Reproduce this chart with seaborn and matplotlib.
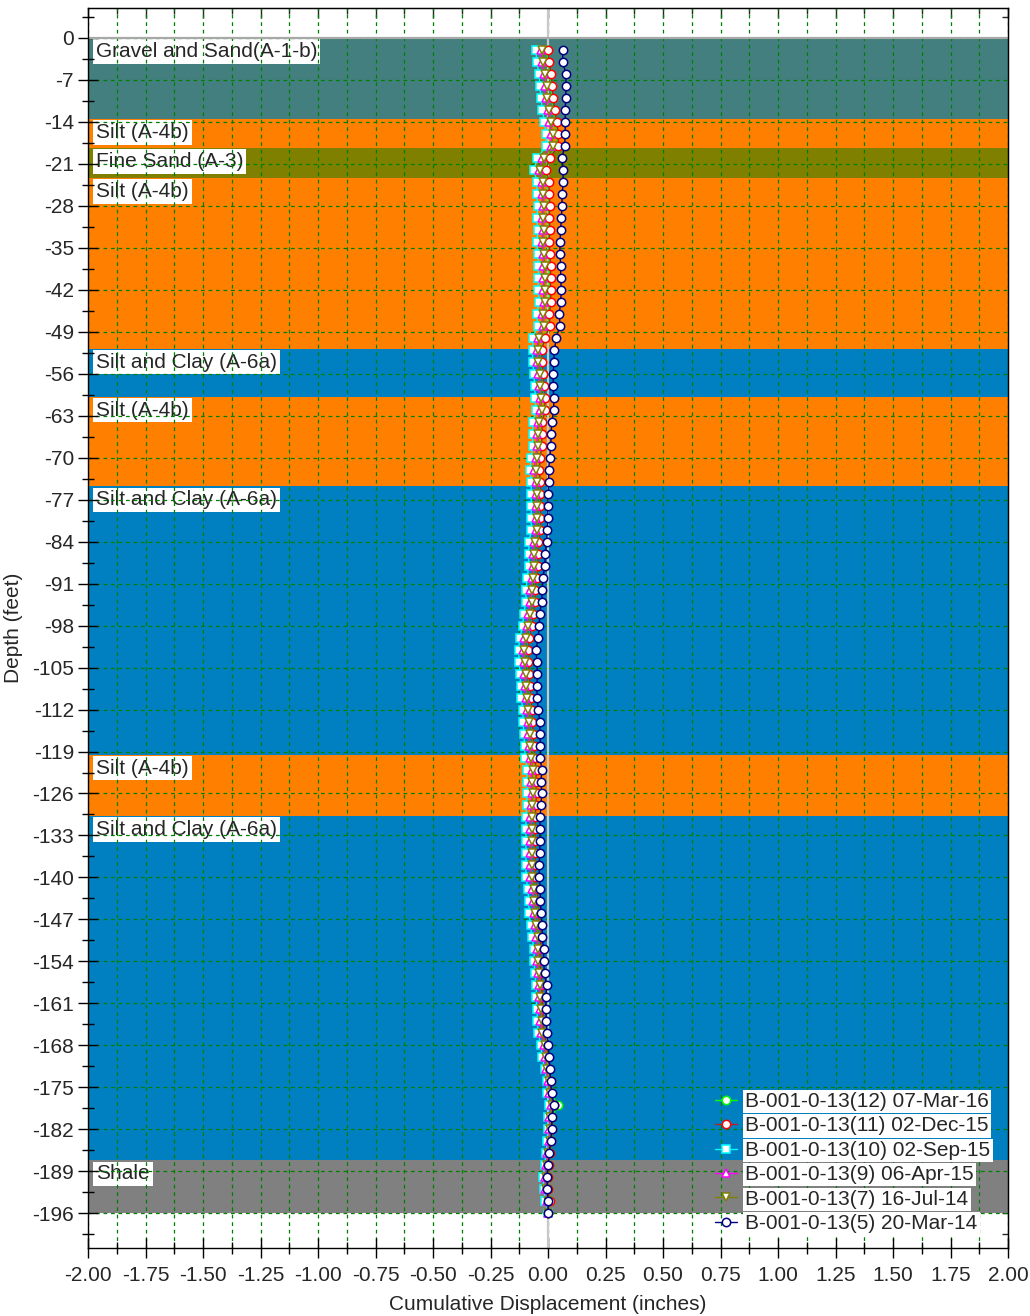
import numpy as np
import pandas as pd
import matplotlib
matplotlib.use("Agg")
import matplotlib.pyplot as plt
import seaborn as sns

# ---- depth readings (feet) -------------------------------------------------
depth = list(range(-2, -197, -2))

# ---- cumulative displacement (inches) per survey ---------------------------
disp_12 = [
    -0.005, 0.000, 0.008, 0.014, 0.017, 0.024, 0.032, 0.040, 0.040, 0.002,
    -0.013, 0.000, 0.000, 0.003, 0.000, 0.003, 0.000, 0.003, 0.006, 0.006,
    0.006, 0.008, 0.000, 0.003, -0.018, -0.029, -0.029, -0.023, -0.020, -0.017,
    -0.015, -0.026, -0.029, -0.029, -0.035, -0.041, -0.035, -0.035, -0.035, -0.035,
    -0.035, -0.044, -0.046, -0.046, -0.052, -0.058, -0.058, -0.067, -0.072, -0.084,
    -0.090, -0.087, -0.084, -0.081, -0.078, -0.072, -0.070, -0.067, -0.064, -0.061,
    -0.052, -0.055, -0.052, -0.055, -0.058, -0.058, -0.058, -0.058, -0.058, -0.058,
    -0.049, -0.046, -0.044, -0.038, -0.032, -0.034, -0.034, -0.031, -0.025, -0.025,
    -0.022, -0.020, -0.017, -0.005, 0.001, 0.004, 0.012, 0.015, 0.042, 0.018,
    0.018, 0.015, 0.009, 0.004, -0.002, 0.001, 0.007, 0.000,
]
disp_11 = [
    0.000, 0.005, 0.013, 0.019, 0.022, 0.029, 0.037, 0.045, 0.045, 0.007,
    -0.008, 0.005, 0.005, 0.008, 0.005, 0.008, 0.005, 0.008, 0.011, 0.011,
    0.011, 0.013, 0.005, 0.008, -0.013, -0.027, -0.027, -0.021, -0.018, -0.015,
    -0.013, -0.024, -0.027, -0.027, -0.033, -0.039, -0.033, -0.033, -0.033, -0.033,
    -0.033, -0.042, -0.044, -0.044, -0.050, -0.056, -0.056, -0.065, -0.070, -0.082,
    -0.088, -0.085, -0.082, -0.079, -0.076, -0.070, -0.068, -0.065, -0.062, -0.059,
    -0.050, -0.053, -0.050, -0.053, -0.056, -0.056, -0.056, -0.056, -0.056, -0.056,
    -0.047, -0.044, -0.042, -0.036, -0.030, -0.034, -0.034, -0.031, -0.025, -0.025,
    -0.022, -0.020, -0.017, -0.005, 0.001, 0.004, 0.012, 0.015, 0.024, 0.018,
    0.018, 0.015, 0.009, 0.004, -0.002, 0.001, 0.007, 0.000,
]
disp_10 = [
    -0.053, -0.048, -0.040, -0.034, -0.031, -0.024, -0.016, -0.008, -0.008, -0.046,
    -0.061, -0.048, -0.048, -0.045, -0.048, -0.045, -0.048, -0.045, -0.042, -0.042,
    -0.042, -0.040, -0.048, -0.045, -0.066, -0.067, -0.067, -0.061, -0.058, -0.055,
    -0.053, -0.064, -0.067, -0.067, -0.073, -0.079, -0.073, -0.073, -0.073, -0.073,
    -0.073, -0.082, -0.084, -0.084, -0.090, -0.096, -0.096, -0.105, -0.110, -0.122,
    -0.128, -0.125, -0.122, -0.119, -0.116, -0.110, -0.108, -0.105, -0.102, -0.099,
    -0.090, -0.093, -0.090, -0.093, -0.096, -0.096, -0.096, -0.096, -0.096, -0.096,
    -0.087, -0.084, -0.082, -0.076, -0.070, -0.060, -0.060, -0.057, -0.051, -0.051,
    -0.048, -0.046, -0.043, -0.031, -0.025, -0.014, -0.006, -0.003, 0.006, 0.000,
    0.000, -0.003, -0.009, -0.014, -0.020, -0.017, -0.011, 0.000,
]
disp_9 = [
    -0.031, -0.026, -0.018, -0.012, -0.009, -0.002, 0.006, 0.014, 0.014, -0.024,
    -0.039, -0.026, -0.026, -0.023, -0.026, -0.023, -0.026, -0.023, -0.020, -0.020,
    -0.020, -0.018, -0.026, -0.023, -0.044, -0.048, -0.048, -0.042, -0.039, -0.036,
    -0.034, -0.045, -0.048, -0.048, -0.054, -0.060, -0.054, -0.054, -0.054, -0.054,
    -0.054, -0.063, -0.065, -0.065, -0.071, -0.077, -0.077, -0.086, -0.091, -0.103,
    -0.109, -0.106, -0.103, -0.100, -0.097, -0.091, -0.089, -0.086, -0.083, -0.080,
    -0.071, -0.074, -0.071, -0.074, -0.077, -0.077, -0.077, -0.077, -0.077, -0.077,
    -0.068, -0.065, -0.063, -0.057, -0.051, -0.048, -0.048, -0.045, -0.039, -0.039,
    -0.036, -0.034, -0.031, -0.019, -0.013, -0.008, 0.000, 0.003, 0.012, 0.006,
    0.006, 0.003, -0.003, -0.008, -0.014, -0.011, -0.005, 0.000,
]
disp_7 = [
    -0.025, -0.020, -0.012, -0.006, -0.003, 0.004, 0.012, 0.020, 0.020, -0.018,
    -0.033, -0.020, -0.020, -0.017, -0.020, -0.017, -0.020, -0.017, -0.014, -0.014,
    -0.014, -0.012, -0.020, -0.017, -0.038, -0.042, -0.042, -0.036, -0.033, -0.030,
    -0.028, -0.039, -0.042, -0.042, -0.048, -0.054, -0.048, -0.048, -0.048, -0.048,
    -0.048, -0.057, -0.059, -0.059, -0.065, -0.071, -0.071, -0.080, -0.085, -0.097,
    -0.103, -0.100, -0.097, -0.094, -0.091, -0.085, -0.083, -0.080, -0.077, -0.074,
    -0.065, -0.068, -0.065, -0.068, -0.071, -0.071, -0.071, -0.071, -0.071, -0.071,
    -0.062, -0.059, -0.057, -0.051, -0.045, -0.042, -0.042, -0.039, -0.033, -0.033,
    -0.030, -0.028, -0.025, -0.013, -0.007, -0.004, 0.004, 0.007, 0.016, 0.010,
    0.010, 0.007, 0.001, -0.004, -0.010, -0.007, -0.001, 0.000,
]
disp_5 = [
    0.064, 0.064, 0.078, 0.078, 0.077, 0.075, 0.075, 0.075, 0.072, 0.061,
    0.064, 0.067, 0.061, 0.061, 0.058, 0.055, 0.052, 0.052, 0.055, 0.055,
    0.058, 0.055, 0.049, 0.052, 0.036, 0.028, 0.025, 0.023, 0.022, 0.025,
    0.025, 0.017, 0.013, 0.013, 0.007, 0.003, 0.003, 0.000, -0.001, -0.001,
    -0.003, -0.006, -0.012, -0.014, -0.022, -0.025, -0.028, -0.036, -0.038, -0.043,
    -0.052, -0.049, -0.046, -0.048, -0.048, -0.042, -0.036, -0.035, -0.033, -0.033,
    -0.028, -0.030, -0.028, -0.030, -0.035, -0.035, -0.035, -0.036, -0.038, -0.038,
    -0.033, -0.033, -0.030, -0.025, -0.025, -0.019, -0.019, -0.015, -0.006, -0.009,
    -0.009, -0.007, -0.004, 0.002, 0.005, 0.008, 0.011, 0.016, 0.026, 0.016,
    0.017, 0.011, 0.006, 0.000, -0.005, -0.003, 0.001, 0.000,
]

survey_labels = [
    "B-001-0-13(12) 07-Mar-16",
    "B-001-0-13(11) 02-Dec-15",
    "B-001-0-13(10) 02-Sep-15",
    "B-001-0-13(9) 06-Apr-15",
    "B-001-0-13(7) 16-Jul-14",
    "B-001-0-13(5) 20-Mar-14",
]
survey_values = [disp_12, disp_11, disp_10, disp_9, disp_7, disp_5]
survey_colors = ["#00FF00", "#B22222", "#00FFFF", "#FF00FF", "#808000", "#000080"]
survey_markers = ["o", "o", "s", "^", "v", "o"]
marker_edges = ["#00FF00", "#FF0000", "#00FFFF", "#FF00FF", "#808000", "#000080"]

# ---- soil profile ----------------------------------------------------------
layer_names = [
    "Gravel and Sand(A-1-b)", "Silt (A-4b)", "Fine Sand (A-3)", "Silt (A-4b)",
    "Silt and Clay (A-6a)", "Silt (A-4b)", "Silt and Clay (A-6a)", "Silt (A-4b)",
    "Silt and Clay (A-6a)", "Shale",
]
layer_top = [0, -13.5, -18.3, -23.3, -51.8, -59.8, -74.8, -119.5, -129.8, -187.2]
layer_bottom = [-13.5, -18.3, -23.3, -51.8, -59.8, -74.8, -119.5, -129.8, -187.2, -196]
soil_colors = {
    "Gravel and Sand(A-1-b)": "#437F7F",
    "Silt (A-4b)": "#FF8000",
    "Fine Sand (A-3)": "#808000",
    "Silt and Clay (A-6a)": "#0080C0",
    "Shale": "#808080",
}

x_ticks = np.arange(-2.0, 2.001, 0.25)
y_ticks = np.arange(0, -197, -7)

# ---- figure ----------------------------------------------------------------
sns.set_style("ticks")
plt.rcParams["font.family"] = ["Liberation Sans", "DejaVu Sans"]
plt.rcParams["axes.unicode_minus"] = False
FS = 15

fig = plt.figure(figsize=(10.3, 13.16), dpi=100)
ax = fig.add_axes([88 / 1030, 1 - 1248 / 1316, 920 / 1030, 1240 / 1316])
ax.set_axisbelow("line")

for name, top, bot in zip(layer_names, layer_top, layer_bottom):
    ax.axhspan(bot, top, color=soil_colors[name], lw=0, zorder=1)
    ax.annotate(name, xy=(-2, top), xytext=(8, -4), textcoords="offset pixels",
                ha="left", va="top", fontsize=FS, zorder=1.2,
                bbox=dict(boxstyle="square,pad=0.14", fc="white", ec="none"))

ax.axvline(0, color="#C8C8C8", lw=1.6, zorder=1.8)
ax.axhline(0, color="#A8A8A8", lw=1.6, zorder=1.8)

for lab, vals, col, mk, mec in zip(survey_labels, survey_values, survey_colors,
                                   survey_markers, marker_edges):
    frame = pd.DataFrame({"disp": vals, "depth": depth})
    sns.lineplot(data=frame, x="disp", y="depth", orient="y", sort=False,
                 estimator=None, errorbar=None, ax=ax, color=col, lw=1.0,
                 marker=mk, markersize=6, markerfacecolor="white",
                 markeredgecolor=mec, markeredgewidth=1.1, label=lab, zorder=2)

ax.set_xlim(-2, 2)
ax.set_ylim(-201.8, 5)
ax.set_xticks(x_ticks)
ax.set_xticks(np.arange(-2.0, 2.001, 0.125), minor=True)
ax.set_xticklabels([f"{v:.2f}" for v in x_ticks])
ax.set_yticks(y_ticks)
ax.set_yticks(np.arange(3.5, -201, -3.5), minor=True)
ax.set_yticklabels([f"{int(v)}" for v in y_ticks])

grid_kw = dict(color="#008000", lw=0.9, ls=(0, (3, 3)))
ax.grid(True, which="both", axis="x", **grid_kw)
ax.grid(True, which="major", axis="y", **grid_kw)
ax.grid(False, which="minor", axis="y")

ax.tick_params(which="major", direction="inout", length=14, width=1.0,
               color="black", labelsize=FS, top=False, right=False)
ax.tick_params(axis="x", which="major", pad=6)
ax.tick_params(axis="y", which="major", pad=3)
ax.tick_params(which="minor", direction="inout", length=8, width=1.0,
               color="black", top=False, right=False)
for s in ax.spines.values():
    s.set_color("black")
    s.set_linewidth(1.0)
    s.set_zorder(4)

# inward ticks on the top and right frame
top_ax = ax.secondary_xaxis("top")
top_ax.set_xticks(x_ticks)
top_ax.set_xticks(np.arange(-2.0, 2.001, 0.125), minor=True)
top_ax.set_xticklabels([])
top_ax.tick_params(which="major", direction="in", length=7, width=1.0)
top_ax.tick_params(which="minor", direction="in", length=4, width=1.0)
right_ax = ax.secondary_yaxis("right")
right_ax.set_yticks(y_ticks)
right_ax.set_yticks(np.arange(3.5, -201, -3.5), minor=True)
right_ax.set_yticklabels([])
right_ax.tick_params(which="both", direction="in", length=4, width=1.0)

ax.set_xlabel("Cumulative Displacement (inches)", fontsize=FS, labelpad=7)
ax.set_ylabel("Depth (feet)", fontsize=FS, labelpad=7)

leg = ax.legend(loc="lower right", bbox_to_anchor=(0.981, 0.012), frameon=False,
                fontsize=FS, handlelength=1.05, handletextpad=0.4,
                labelspacing=0.26, borderpad=0, borderaxespad=0)
for t in leg.get_texts():
    t.set_bbox(dict(boxstyle="square,pad=0.1", fc="white", ec="none"))

fig.savefig("out.png", dpi=100)
